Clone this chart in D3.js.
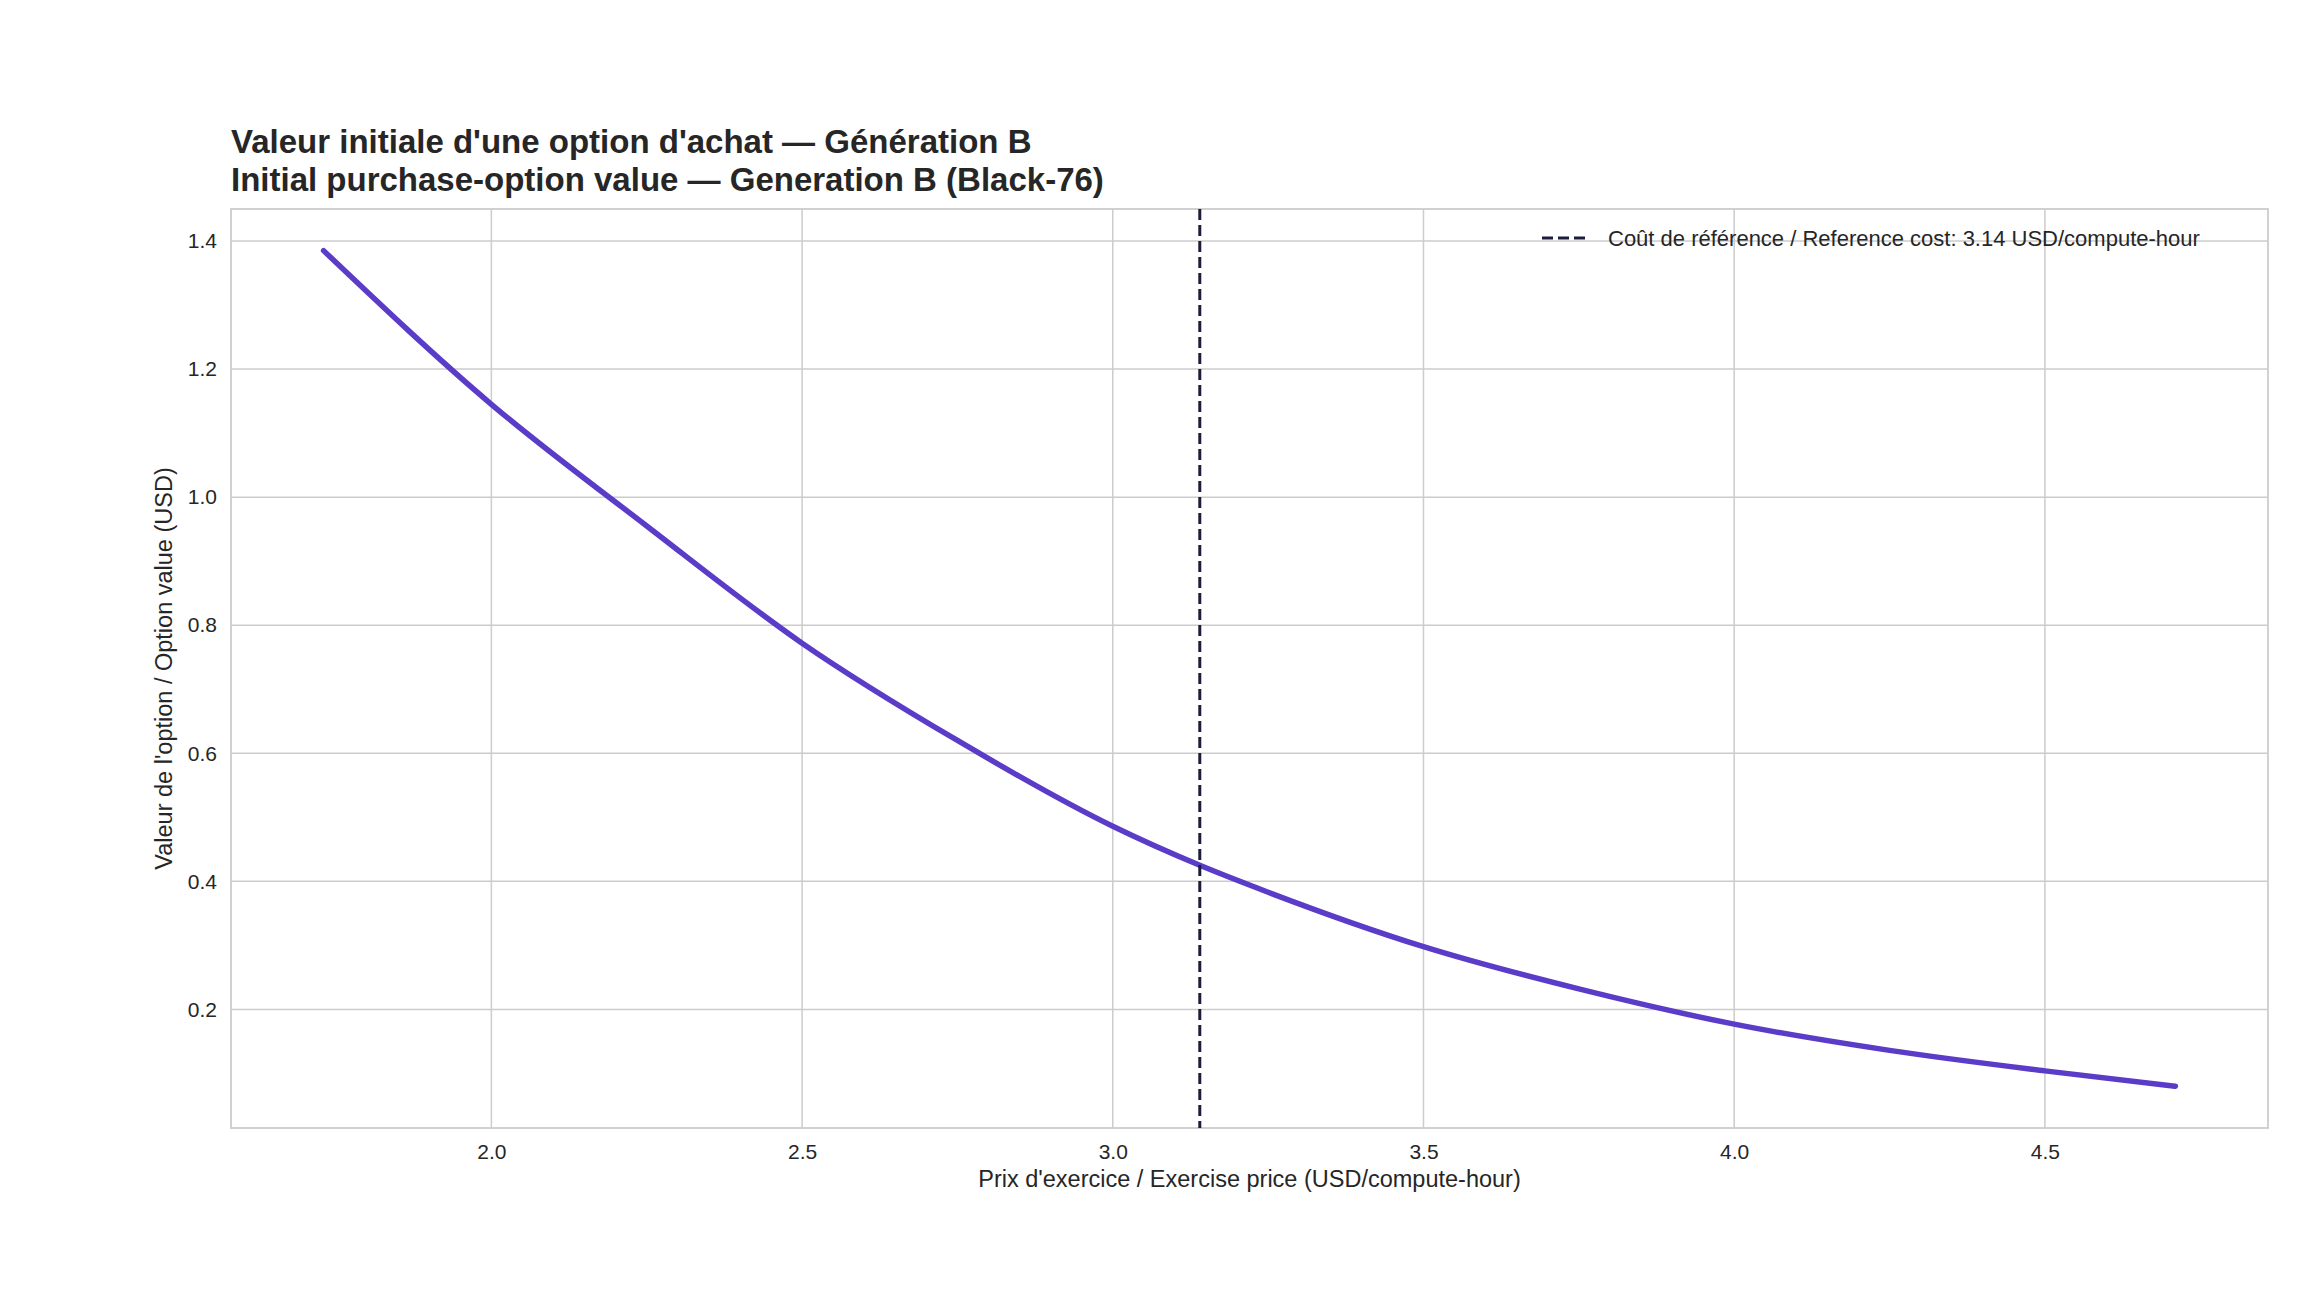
<!DOCTYPE html>
<html><head><meta charset="utf-8">
<script src="https://cdn.jsdelivr.net/npm/d3@7"></script>
<style>body{margin:0;background:#fff}svg{font-family:"Liberation Sans",Arial,sans-serif}</style>
</head><body><svg width="2304" height="1296"></svg>
<script>
const strikes = [1.73, 2.0, 2.25, 2.5, 2.75, 3.0, 3.14, 3.25, 3.5, 3.75, 4.0, 4.25, 4.5, 4.71];
const values  = [1.385, 1.145, 0.955, 0.772, 0.620, 0.486, 0.425, 0.383, 0.298, 0.232, 0.177, 0.136, 0.104, 0.080];
const refCost = 3.14;
const xTicks = [2.0, 2.5, 3.0, 3.5, 4.0, 4.5];
const yTicks = [0.2, 0.4, 0.6, 0.8, 1.0, 1.2, 1.4];

const svg = d3.select('svg');
const m = {left: 231, right: 2268, top: 209, bottom: 1128};

const x = d3.scaleLinear().domain([1.581, 4.859]).range([m.left, m.right]);
const y = d3.scaleLinear().domain([0.0148, 1.450]).range([m.bottom, m.top]);

// grid
svg.append('g').selectAll('line').data(xTicks).enter().append('line')
    .attr('x1', d => x(d)).attr('x2', d => x(d)).attr('y1', m.top).attr('y2', m.bottom)
    .attr('stroke', '#cccccc').attr('stroke-width', 1.5);
svg.append('g').selectAll('line').data(yTicks).enter().append('line')
    .attr('y1', d => y(d)).attr('y2', d => y(d)).attr('x1', m.left).attr('x2', m.right)
    .attr('stroke', '#cccccc').attr('stroke-width', 1.5);

svg.append('rect').attr('x', m.left).attr('y', m.top)
    .attr('width', m.right - m.left).attr('height', m.bottom - m.top)
    .attr('fill', 'none').attr('stroke', '#cccccc').attr('stroke-width', 1.8);

// axes
const xAxis = svg.append('g').attr('transform', `translate(0,${m.bottom})`)
    .call(d3.axisBottom(x).tickValues(xTicks).tickFormat(d3.format('.1f')).tickSize(0).tickPadding(16));
const yAxis = svg.append('g').attr('transform', `translate(${m.left},0)`)
    .call(d3.axisLeft(y).tickValues(yTicks).tickFormat(d3.format('.1f')).tickSize(0).tickPadding(14));
[xAxis, yAxis].forEach(a => {
    a.select('.domain').remove();
    a.selectAll('text').attr('font-size', 21).attr('fill', '#262626')
        .attr('font-family', '"Liberation Sans",Arial,sans-serif');
});

// curve
svg.append('path').datum(strikes.map((s, i) => [s, values[i]]))
    .attr('d', d3.line().x(d => x(d[0])).y(d => y(d[1])).curve(d3.curveMonotoneX))
    .attr('fill', 'none').attr('stroke', '#5a3cc8').attr('stroke-width', 5.5).attr('stroke-linecap', 'round');

// reference line
svg.append('line').attr('x1', x(refCost)).attr('x2', x(refCost)).attr('y1', m.top).attr('y2', m.bottom)
    .attr('stroke', '#1c1c3c').attr('stroke-width', 3).attr('stroke-dasharray', '11,5');

// legend
svg.append('line').attr('x1', 1542).attr('x2', 1588).attr('y1', 238).attr('y2', 238)
    .attr('stroke', '#1c1c3c').attr('stroke-width', 3).attr('stroke-dasharray', '11,5');
svg.append('text').attr('x', 1608).attr('y', 246).attr('font-size', 22).attr('fill', '#262626')
    .text('Coût de référence / Reference cost: 3.14 USD/compute-hour');

// titles
svg.append('text').attr('x', m.left).attr('y', 153).attr('font-size', 33).attr('font-weight', 'bold')
    .attr('fill', '#262626').text("Valeur initiale d'une option d'achat — Génération B");
svg.append('text').attr('x', m.left).attr('y', 191).attr('font-size', 33).attr('font-weight', 'bold')
    .attr('fill', '#262626').text('Initial purchase-option value — Generation B (Black-76)');

svg.append('text').attr('x', (m.left + m.right) / 2).attr('y', 1187).attr('text-anchor', 'middle')
    .attr('font-size', 23.5).attr('fill', '#262626')
    .text("Prix d'exercice / Exercise price (USD/compute-hour)");
svg.append('text').attr('transform', `translate(172,${(m.top + m.bottom) / 2}) rotate(-90)`)
    .attr('text-anchor', 'middle').attr('font-size', 23.5).attr('fill', '#262626')
    .text("Valeur de l'option / Option value (USD)");
</script></body></html>
